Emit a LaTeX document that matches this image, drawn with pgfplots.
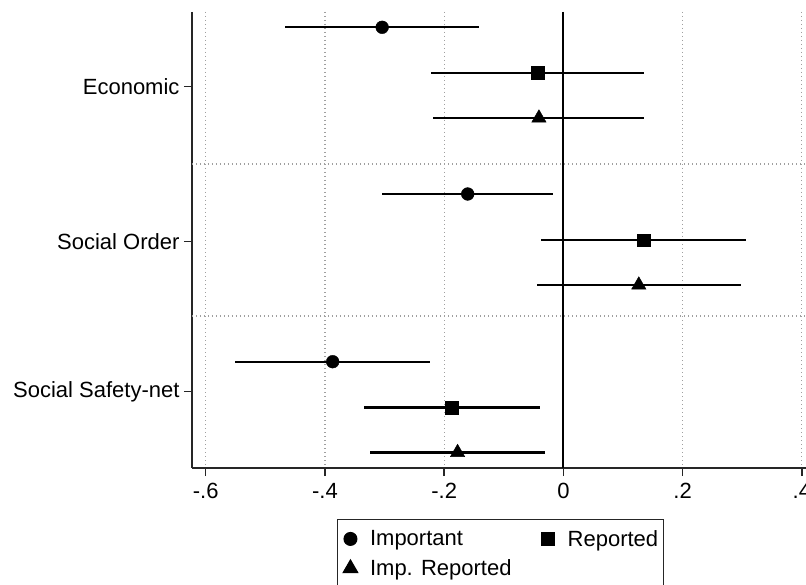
\documentclass[border=0pt]{standalone}
\usepackage{fontspec}
\setmainfont{Liberation Sans}
\usepackage{pgfplots}
\pgfplotsset{compat=1.18}
\begin{document}
\begin{tikzpicture}[font=\fontsize{22pt}{26pt}\selectfont]
\useasboundingbox (-192pt,-117pt) rectangle (614pt,468pt);
\begin{axis}[
  at={(307pt,228pt)}, anchor=center,
  scale only axis, width=614pt, height=456pt,
  xmin=-0.623, xmax=0.407,
  ymin=12, ymax=468, y dir=reverse,
  axis x line*=bottom, axis y line*=left,
  axis line style={line width=1.4pt, black!85},
  xtick={-0.6,-0.4,-0.2,0,0.2,0.4},
  xticklabels={{-.6},{-.4},{-.2},{0},{.2},{.4}},
  ytick={86.7,241.7,391.7},
  yticklabels={Economic,Social Order,Social Safety-net},
  tick align=outside, major tick length=8pt,
  tick style={line width=1.4pt, black!85},
  xticklabel style={yshift=-4pt},
  yticklabel style={xshift=-1pt},
  xmajorgrids=true,
  major grid style={gray!75, line width=1.2pt, dash pattern=on 1.2pt off 2.8pt},
  extra y ticks={164,316},
  extra y tick labels={},
  extra y tick style={ymajorgrids=true, major tick length=0pt},
  legend columns=2,
  legend style={at={(axis description cs:0.2366,-0.111)}, anchor=north west,
    draw=black!85, line width=1.2pt, font=\fontsize{22pt}{26pt}\selectfont,
    inner xsep=4pt, inner ysep=9pt, row sep=8pt,
    nodes={inner xsep=1pt},
    /tikz/every even column/.append style={column sep=27pt}},
  legend cell align=left,
  legend image code/.code={\draw[#1] plot coordinates {(8pt,0pt)}; \path (0pt,0pt) (26pt,0pt);},
  error bars/error bar style={line width=2.1pt, black},
]
% zero line
\addplot[black, line width=1.8pt, forget plot] coordinates {(0,12) (0,468)};

% Important (circles)
\addplot[black, only marks, mark=*, mark size=6.4pt, forget plot,
  error bars/.cd, x dir=both, x explicit, error mark=none]
  coordinates {
    (-0.304,27.3) +- (0.1625,0)
    (-0.1605,194) +- (0.1435,0)
    (-0.387,361.7) +- (0.164,0)
  };
% Reported (squares)
\addplot[black, only marks, mark=square*, mark size=6.3pt, forget plot,
  error bars/.cd, x dir=both, x explicit, error mark=none]
  coordinates {
    (-0.043,72.7) +- (0.179,0)
    (0.135,240) +- (0.172,0)
    (-0.1875,407.5) +- (0.1475,0)
  };
% Imp. Reported (triangles)
\addplot[black, only marks, mark=triangle*, mark size=8.3pt, forget plot,
  error bars/.cd, x dir=both, x explicit, error mark=none]
  coordinates {
    (-0.041,118) +- (0.177,0)
    (0.1265,285) +- (0.1715,0)
    (-0.1775,452.5) +- (0.1465,0)
  };

\addlegendimage{black, only marks, mark=*, mark size=6.4pt}
\addlegendentry{Important}
\addlegendimage{black, only marks, mark=square*, mark size=6.3pt}
\addlegendentry{Reported}
\addlegendimage{black, only marks, mark=triangle*, mark size=8.3pt}
\addlegendentry{Imp. Reported}
\end{axis}
\end{tikzpicture}
\end{document}
